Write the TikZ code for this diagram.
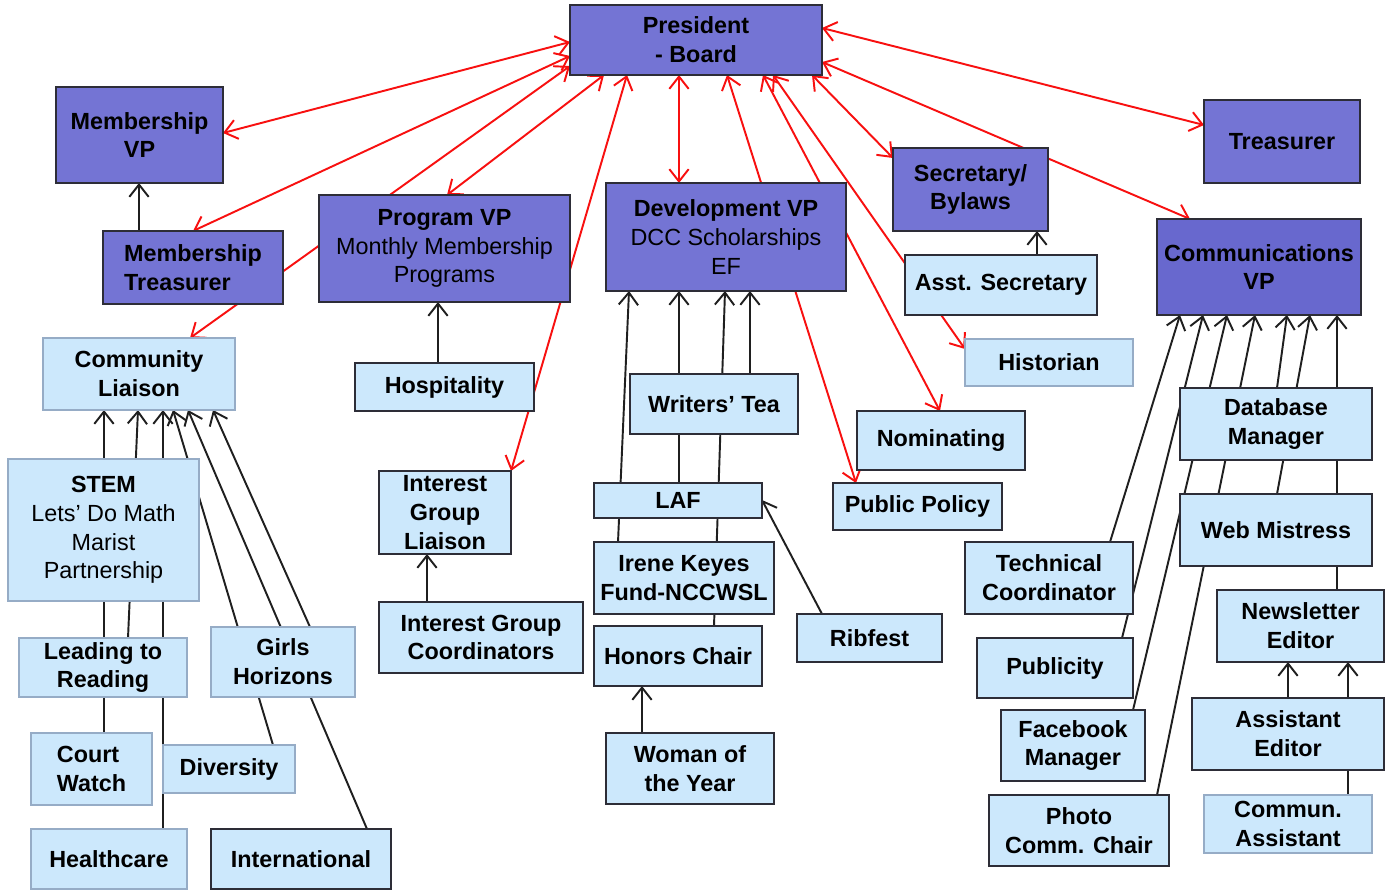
\documentclass[tikz,border=0pt]{standalone}
\usepackage{fontspec}
\setmainfont{Liberation Sans}
\usetikzlibrary{arrows.meta,calc,backgrounds}
\definecolor{dkfill}{RGB}{116,116,212}
\definecolor{dkfilltwo}{RGB}{104,104,206}
\definecolor{ltfill}{RGB}{204,232,252}
\definecolor{ltline}{RGB}{150,172,198}
\definecolor{bdr}{RGB}{45,45,55}
\definecolor{redln}{RGB}{248,16,16}
\newcommand\rg[1]{{\mdseries #1}}
\newcommand\bx[7]{\node[#6, minimum width={(#4-#2)*0.02cm}, minimum height={(#5-#3)*0.02cm}] (#1) at ({(#2+#4)/2},{(#3+#5)/2}) {#7};}
\tikzset{
  box/.style={draw=bdr, line width=1pt, inner sep=0pt, outer sep=0pt, align=center,
    font=\fontsize{13.3}{16.4}\selectfont\bfseries, text=black},
  dk/.style={box, fill=dkfill},
  dkb/.style={box, fill=dkfilltwo},
  lt/.style={box, fill=ltfill},
  ltl/.style={box, fill=ltfill, draw=ltline},
  tip/.tip={Straight Barb[length=7pt,width=11pt,line width=1.1pt]},
  rl/.style={draw=redln, line width=1.1pt, tip-tip},
  bl/.style={draw=black!88, line width=1.1pt, -tip}
}
\begin{document}
\begin{tikzpicture}[x=0.02cm, y=-0.02cm]
\useasboundingbox (0,0) rectangle (1389,890);
% ---- boxes
\bx{pres}{570}{5}{822}{75}{dk}{President\\- Board}
\bx{mvp}{56}{87}{223}{183}{dk}{Membership\\VP}
\bx{treas}{1204}{100}{1360}{183}{dk}{Treasurer}
\bx{mtreas}{103}{231}{283}{304}{dk,align=left}{Membership\\Treasurer}
\bx{prog}{319}{195}{570}{302}{dk}{Program VP\\\rg{Monthly Membership}\\\rg{Programs}}
\bx{dev}{606}{183}{846}{291}{dk}{Development VP\\\rg{DCC Scholarships}\\\rg{EF}}
\bx{sec}{893}{148}{1048}{231}{dk}{Secretary/\\Bylaws}
\bx{comm}{1157}{219}{1361}{315}{dkb}{Communications\\VP}
\bx{cl}{43}{338}{235}{410}{ltl}{Community\\Liaison}
\bx{hosp}{355}{363}{534}{411}{lt}{Hospitality}
\bx{asec}{905}{255}{1097}{315}{lt}{Asst. Secretary}
\bx{hist}{965}{339}{1133}{386}{ltl}{Historian}
\bx{wt}{630}{374}{798}{434}{lt}{Writers’ Tea}
\bx{nom}{857}{411}{1025}{470}{lt}{Nominating}
\bx{pp}{833}{483}{1002}{530}{lt}{Public Policy}
\bx{igl}{379}{471}{511}{554}{lt}{Interest\\Group\\Liaison}
\bx{laf}{594}{483}{762}{518}{lt}{LAF}
\bx{stem}{8}{459}{199}{601}{ltl}{STEM\\\rg{Lets’ Do Math}\\\rg{Marist}\\\rg{Partnership}}
\bx{db}{1180}{388}{1372}{460}{lt}{Database\\Manager}
\bx{wm}{1180}{494}{1372}{566}{lt}{Web Mistress}
\bx{tech}{965}{542}{1133}{614}{lt}{Technical\\Coordinator}
\bx{irene}{594}{542}{774}{614}{lt}{Irene Keyes\\Fund-NCCWSL}
\bx{igc}{379}{602}{583}{673}{lt}{Interest Group\\Coordinators}
\bx{rib}{797}{614}{942}{662}{lt}{Ribfest}
\bx{news}{1217}{590}{1384}{662}{lt}{Newsletter\\Editor}
\bx{ltr}{19}{638}{187}{697}{ltl}{Leading to\\Reading}
\bx{gh}{211}{627}{355}{697}{ltl}{Girls\\Horizons}
\bx{honors}{594}{626}{762}{686}{lt}{Honors Chair}
\bx{pub}{977}{638}{1133}{698}{lt}{Publicity}
\bx{fb}{1001}{710}{1145}{781}{lt}{Facebook\\Manager}
\bx{aed}{1192}{698}{1384}{770}{lt}{Assistant\\Editor}
\bx{cw}{31}{733}{152}{805}{ltl,align=left}{Court\\Watch}
\bx{div}{163}{745}{295}{793}{ltl}{Diversity}
\bx{woy}{606}{733}{774}{804}{lt}{Woman of\\the Year}
\bx{photo}{989}{795}{1169}{866}{lt}{Photo\\Comm. Chair}
\bx{casst}{1204}{795}{1372}{853}{ltl}{Commun.\\Assistant}
\bx{hc}{31}{829}{187}{889}{ltl}{Healthcare}
\bx{intl}{211}{829}{391}{889}{lt}{International}
\begin{scope}[on background layer]
\fill[white] (0,0) rectangle (1389,890);
% ---- red connectors
\draw[rl] ($(pres.north west)+(0,37)$) -- ($(mvp.north west)+(167,46)$);
\draw[rl] ($(pres.north west)+(0,51)$) -- ($(mtreas.north west)+(90,0)$);
\draw[rl] ($(pres.north west)+(0,61)$) -- ($(cl.north west)+(147,0)$);
\draw[rl] ($(pres.north west)+(34,70)$) -- ($(prog.north west)+(128,0)$);
\draw[rl] ($(pres.north west)+(57,70)$) -- (igl.north east);
\draw[rl] ($(pres.north west)+(109,70)$) -- ($(dev.north west)+(73,0)$);
\draw[rl] ($(pres.north west)+(157,70)$) -- ($(pp.north west)+(23,0)$);
\draw[rl] ($(pres.north west)+(193,70)$) -- ($(nom.north west)+(83,0)$);
\draw[rl] ($(pres.north west)+(203,70)$) -- ($(hist.north west)+(0,10)$);
\draw[rl] ($(pres.north west)+(242,70)$) -- ($(sec.north west)+(0,10)$);
\draw[rl] ($(pres.north west)+(252,57)$) -- ($(comm.north west)+(33,0)$);
\draw[rl] ($(pres.north west)+(252,23)$) -- ($(treas.north west)+(0,25)$);
% ---- black connectors
\draw[bl] ($(mtreas.north west)+(36,0)$) -- ($(mvp.north west)+(83,96)$);
\draw[bl] ($(hosp.north west)+(83,0)$) -- ($(prog.north west)+(119,107)$);
\draw[bl] ($(asec.north west)+(132,0)$) -- ($(sec.north west)+(144,83)$);
\draw[bl] ($(igc.north west)+(48,0)$) -- ($(igl.north west)+(48,83)$);
\draw[bl] ($(woy.north west)+(36,0)$) -- ($(honors.north west)+(48,60)$);
\draw[bl] ($(rib.north west)+(25,0)$) -- ($(laf.north west)+(168,17)$);
\draw[bl] ($(irene.north west)+(24,0)$) -- ($(dev.north west)+(23,108)$);
\draw[bl] ($(laf.north west)+(85,0)$) -- ($(dev.north west)+(73,108)$);
\draw[bl] ($(honors.north west)+(120,0)$) -- ($(dev.north west)+(119,108)$);
\draw[bl] ($(wt.north west)+(120,0)$) -- ($(dev.north west)+(144,108)$);
\draw[bl] ($(cw.north west)+(73,0)$) -- ($(cl.north west)+(61,72)$);
\draw[bl] ($(ltr.north west)+(109,0)$) -- ($(cl.north west)+(95,72)$);
\draw[bl] ($(hc.north west)+(132,0)$) -- ($(cl.north west)+(120,72)$);
\draw[bl] ($(div.north west)+(110,0)$) -- ($(cl.north west)+(130,72)$);
\draw[bl] ($(intl.north west)+(156,0)$) -- ($(cl.north west)+(145,72)$);
\draw[bl] ($(gh.north west)+(99,0)$) -- ($(cl.north west)+(170,72)$);
\draw[bl] ($(tech.north west)+(145,0)$) -- ($(comm.north west)+(23,96)$);
\draw[bl] ($(pub.north west)+(145,0)$) -- ($(comm.north west)+(46,96)$);
\draw[bl] ($(fb.north west)+(132,0)$) -- ($(comm.north west)+(70,96)$);
\draw[bl] ($(photo.north west)+(168,0)$) -- ($(comm.north west)+(98,96)$);
\draw[bl] ($(db.north west)+(97,0)$) -- ($(comm.north west)+(130,96)$);
\draw[bl] ($(wm.north west)+(97,0)$) -- ($(comm.north west)+(153,96)$);
\draw[bl] ($(news.north west)+(120,0)$) -- ($(comm.north west)+(180,96)$);
\draw[bl] ($(aed.north west)+(96,0)$) -- ($(news.north west)+(71,72)$);
\draw[bl] ($(casst.north west)+(144,0)$) -- ($(news.north west)+(131,72)$);
\end{scope}
\end{tikzpicture}
\end{document}
